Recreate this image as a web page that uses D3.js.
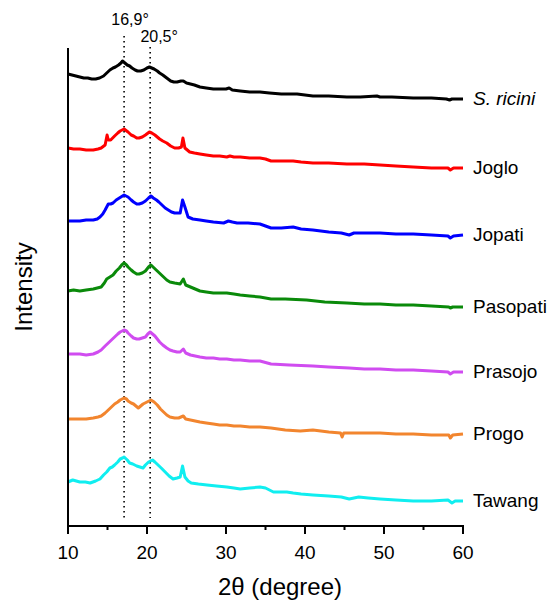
<!DOCTYPE html>
<html>
<head>
<meta charset="utf-8">
<script src="https://cdn.jsdelivr.net/npm/d3@7"></script>
<style>
    body { margin: 0; background: #fff; }
    text { font-family: "Liberation Sans", Arial, sans-serif; }
</style>
</head>
<body>
<div class="chart"></div>
<script>
const width = 551
const height = 600

// sample names (top to bottom) and their colours
const sampleNames = ['S. ricini', 'Joglo', 'Jopati', 'Pasopati', 'Prasojo', 'Progo', 'Tawang']
const sampleColors = ['#000000', '#ff0000', '#0000ff', '#0a8a0a', '#d04cf0', '#f2852e', '#10eef0']

// peak markers
const peakPositions = [17.1, 20.4]
const peakLabels = ['16,9°', '20,5°']

const xTicks = [10, 20, 30, 40, 50, 60]
const xMinorTicks = [15, 25, 35, 45, 55]

// XRD patterns, offset-stacked intensity (a.u.) vs 2θ
const sRicini = [[10, 452], [10.5, 451], [11, 450], [11.5, 449], [12, 448], [12.5, 448], [13, 447], [13.5, 447], [14, 448], [14.5, 450], [14.9, 453], [15.3, 456], [15.7, 458], [16, 459], [16.4, 461], [16.7, 463], [16.9, 465], [17.2, 463], [17.5, 461], [17.8, 460], [18.1, 458], [18.5, 456], [18.8, 455], [19.2, 455], [19.6, 456], [20, 458], [20.3, 459], [20.6, 458], [20.9, 457], [21.3, 455], [21.6, 453], [22, 451], [22.5, 448], [23, 445], [23.4, 444], [23.8, 444], [24.3, 445], [24.6, 445], [25, 443], [25.5, 442], [26, 441], [26.7, 439], [27.5, 438], [28.4, 437], [29.2, 437], [30, 437], [30.4, 438], [30.8, 436], [31.8, 435], [33, 434], [34.3, 434], [35.5, 433], [37, 432], [39, 432], [41, 430], [43, 430], [45.3, 429], [47, 429], [49.1, 430], [49.5, 429], [51, 429], [53.7, 428], [56, 428], [57.9, 427], [58.3, 426], [58.6, 427], [60, 427]]

const joglo = [[10, 378], [10.7, 377], [11.5, 377], [12.3, 376], [13.2, 376], [13.8, 377], [14.2, 378], [14.7, 381], [14.95, 391], [15.1, 386], [15.4, 386], [15.9, 390], [16.3, 393], [16.6, 395], [17.1, 397], [17.6, 394], [18, 391], [18.3, 390], [18.7, 388], [19, 388], [19.4, 389], [19.8, 391], [20.3, 394], [20.6, 393], [21, 391], [21.3, 389], [21.6, 387], [22, 385], [22.5, 383], [23, 380], [23.5, 378], [24, 378], [24.35, 379], [24.55, 388], [24.8, 378], [25.1, 376], [25.4, 374], [26, 373], [26.7, 372], [27.5, 371], [28.4, 370], [29.2, 370], [30.1, 369], [30.5, 370], [31, 369], [31.8, 369], [33, 368], [34.3, 368], [35, 367], [35.7, 365], [37, 365], [38.5, 365], [39.5, 364], [41, 363], [43, 363], [45.3, 362], [47.5, 362], [49.5, 361], [51.5, 360], [53.7, 359], [56, 358], [58.1, 358], [58.4, 356], [58.8, 358], [60, 358]]

const jopati = [[10, 305], [10.7, 305], [11.5, 305], [12.3, 306], [13.2, 306], [13.7, 307], [14.05, 309], [14.4, 312], [14.7, 316], [15.1, 322], [15.4, 322], [15.7, 323], [16.1, 326], [16.5, 328], [17.1, 331], [17.6, 329], [18, 326], [18.3, 324], [18.7, 322], [19, 322], [19.4, 323], [19.8, 325], [20.2, 328], [20.5, 330], [20.8, 328], [21.2, 326], [21.5, 324], [21.9, 321], [22.3, 318], [22.7, 316], [23.1, 314], [23.5, 313], [24.2, 313], [24.5, 326], [24.8, 319], [25.2, 309], [25.8, 307], [26.7, 306], [27.5, 305], [28.4, 304], [29.7, 303], [30.3, 305], [30.8, 304], [31.4, 303], [32.8, 303], [34.3, 302], [35, 300], [35.7, 298], [37, 298], [38.5, 299], [39.5, 297], [41, 296], [43, 294], [44.6, 293], [45.6, 291], [46.2, 293], [47.5, 293], [49.5, 293], [51.5, 292], [53.7, 292], [56, 291], [58.1, 290], [58.4, 288], [58.8, 290], [60, 291]]

const pasopati = [[10, 235], [10.7, 236], [11.5, 235], [12.3, 236], [13.2, 237], [13.7, 238], [14.2, 239], [14.6, 243], [14.9, 247], [15.3, 249], [15.7, 251], [16.1, 255], [16.5, 258], [16.8, 261], [17.1, 263], [17.4, 261], [17.6, 259], [18, 256], [18.3, 254], [18.7, 252], [19, 252], [19.4, 253], [19.8, 255], [20.2, 259], [20.5, 261], [20.9, 258], [21.3, 255], [21.7, 252], [22.1, 249], [22.5, 246], [22.9, 244], [23.5, 243], [24.2, 242], [24.6, 247], [24.9, 241], [25.5, 239], [26.1, 237], [26.7, 235], [27.5, 234], [28.4, 233], [29.2, 233], [30.1, 233], [31, 232], [31.8, 231], [33, 230], [34.3, 229], [35.7, 227], [37.5, 227], [40.2, 226], [42.5, 224], [45.3, 223], [47.5, 222], [49.5, 222], [51.5, 221], [53.7, 221], [56, 220], [58.2, 219], [58.4, 218], [58.7, 219], [60, 219]]

const prasojo = [[10, 172], [10.7, 172], [11.5, 172], [12.3, 171], [13.2, 172], [13.8, 174], [14.2, 176], [14.7, 180], [15.1, 183], [15.5, 186], [15.9, 189], [16.3, 192], [16.6, 194], [17.1, 196], [17.4, 195], [17.6, 193], [18, 190], [18.3, 188], [18.7, 187], [19, 187], [19.4, 188], [19.8, 189], [20.1, 192], [20.4, 194], [20.7, 192], [21, 190], [21.3, 187], [21.6, 184], [22, 181], [22.5, 178], [22.9, 176], [23.3, 175], [23.8, 174], [24.2, 174], [24.6, 177], [24.9, 173], [25.5, 171], [26.1, 170], [26.7, 169], [27.5, 168], [28.4, 168], [29.2, 167], [30.1, 167], [31, 166], [31.8, 166], [33, 165], [34.3, 165], [35.7, 162], [38, 161], [41, 160], [43, 159], [45.6, 158], [47.5, 157], [49.5, 157], [51.5, 156], [53.7, 156], [56, 155], [58.1, 154], [58.4, 152], [58.8, 154], [60, 154]]

const progo = [[10, 107], [10.7, 107], [11.5, 107], [12.3, 107], [13.2, 108], [13.8, 109], [14.2, 110], [14.7, 113], [15.1, 116], [15.5, 119], [15.9, 122], [16.3, 124], [16.6, 126], [17.1, 128], [17.4, 127], [17.6, 125], [18, 123], [18.3, 122], [18.6, 120], [18.9, 118], [19.2, 120], [19.5, 122], [20, 124], [20.5, 126], [20.9, 124], [21.3, 121], [21.7, 117], [22.1, 114], [22.5, 111], [22.9, 109], [23.5, 108], [24, 108], [24.6, 110], [24.9, 107], [25.5, 106], [26.1, 105], [26.7, 104], [27.5, 103], [28.4, 102], [29.2, 101], [30.1, 101], [31, 100], [31.8, 100], [33, 99], [34.3, 99], [35.7, 98], [37.5, 96], [39.4, 95], [41, 96], [43, 94], [44.5, 93], [44.7, 89], [44.9, 93], [45.6, 93], [47.5, 93], [49.5, 93], [51.5, 92], [53.7, 92], [56, 91], [58.2, 91], [58.4, 88], [58.7, 91], [60, 92]]

const tawang = [[10, 44], [10.6, 46], [11.5, 44], [12.2, 44], [12.8, 43], [13.5, 45], [14.05, 47], [14.5, 51], [14.9, 54], [15.3, 58], [15.6, 59], [15.9, 61], [16.3, 64], [16.6, 67], [16.9, 68], [17.1, 69], [17.5, 66], [17.8, 63], [18.2, 62], [18.7, 60], [19.1, 59], [19.5, 58], [19.8, 61], [20.2, 64], [20.7, 66], [21, 64], [21.4, 61], [21.8, 58], [22.3, 54], [22.8, 50], [23.3, 47], [23.8, 48], [24.2, 49], [24.5, 60], [24.8, 49], [25.2, 45], [25.6, 43], [26.5, 42], [27.6, 41], [28.8, 40], [30.1, 39], [31, 38], [31.8, 37], [33, 38], [34.3, 39], [35, 38], [36, 34], [37.7, 34], [38.5, 33], [39.5, 32], [41, 31], [43, 30], [44.6, 29], [45.6, 27], [46.8, 29], [48, 28], [49.5, 27], [51.5, 26], [53.7, 25], [56, 25], [58.1, 26], [58.6, 23], [59, 25], [60, 25]]

const patterns = [sRicini, joglo, jopati, pasopati, prasojo, progo, tawang]

const svg = d3.select('.chart').append('svg')
    .attr('width', width)
    .attr('height', height)

let x = d3.scaleLinear().domain([10, 60]).range([68, 463])
let y = d3.scaleLinear().domain([0, 478]).range([526, 48])

// dotted peak lines and labels
svg.selectAll('.peakLine')
    .data(peakPositions)
    .enter()
    .append('line')
    .attr('class', 'peakLine')
    .attr('x1', d => x(d))
    .attr('x2', d => x(d))
    .attr('y1', (d, i) => i === 0 ? 36 : 47)
    .attr('y2', 518)
    .style('stroke', '#000')
    .style('stroke-width', '1.6px')
    .style('stroke-dasharray', '1.6,3.4')

svg.selectAll('.peakLabel')
    .data(peakLabels)
    .enter()
    .append('text')
    .attr('class', 'peakLabel')
    .attr('x', (d, i) => x(peakPositions[i]) + (i === 0 ? 6 : 9))
    .attr('y', (d, i) => i === 0 ? 25 : 42)
    .attr('text-anchor', 'middle')
    .style('font-size', '16px')
    .text(d => d)

// patterns
const line = d3.line()
    .x(d => x(d[0]))
    .y(d => y(d[1]))

svg.selectAll('.pattern')
    .data(patterns)
    .enter()
    .append('path')
    .attr('class', 'pattern')
    .attr('d', d => line(d))
    .style('fill', 'none')
    .style('stroke', (d, i) => sampleColors[i])
    .style('stroke-width', '3px')
    .style('stroke-linejoin', 'round')

// sample names next to the end of each pattern
svg.selectAll('.sampleName')
    .data(sampleNames)
    .enter()
    .append('text')
    .attr('class', 'sampleName')
    .attr('x', x(60) + 10)
    .attr('y', (d, i) => y(patterns[i][patterns[i].length - 1][1]) + 6)
    .style('font-size', '19px')
    .style('font-style', (d, i) => i === 0 ? 'italic' : 'normal')
    .text(d => d)

// axes
svg.append('line')
    .attr('x1', x(10)).attr('x2', x(10))
    .attr('y1', y(478)).attr('y2', y(0) + 1)
    .style('stroke', '#000')
    .style('stroke-width', '2px')

const xAxis = svg.append('g')
    .attr('transform', 'translate(0,' + y(0) + ')')

xAxis.append('line')
    .attr('x1', x(10) - 1).attr('x2', x(60) + 1)
    .style('stroke', '#000')
    .style('stroke-width', '2px')

xAxis.selectAll('.minorTick')
    .data(xMinorTicks)
    .enter()
    .append('line')
    .attr('x1', d => x(d)).attr('x2', d => x(d))
    .attr('y1', 0).attr('y2', 4)
    .style('stroke', '#000')
    .style('stroke-width', '2px')

xAxis.selectAll('.majorTick')
    .data(xTicks)
    .enter()
    .append('line')
    .attr('x1', d => x(d)).attr('x2', d => x(d))
    .attr('y1', 0).attr('y2', 8)
    .style('stroke', '#000')
    .style('stroke-width', '2px')

xAxis.selectAll('.tickLabel')
    .data(xTicks)
    .enter()
    .append('text')
    .attr('x', d => x(d))
    .attr('y', 33)
    .attr('text-anchor', 'middle')
    .style('font-size', '19px')
    .text(d => d)

svg.append('text')
    .attr('x', 280)
    .attr('y', 595)
    .attr('text-anchor', 'middle')
    .style('font-size', '24px')
    .text('2θ (degree)')

svg.append('text')
    .attr('transform', 'translate(32,287) rotate(-90)')
    .attr('text-anchor', 'middle')
    .style('font-size', '24px')
    .text('Intensity')
</script>
</body>
</html>
